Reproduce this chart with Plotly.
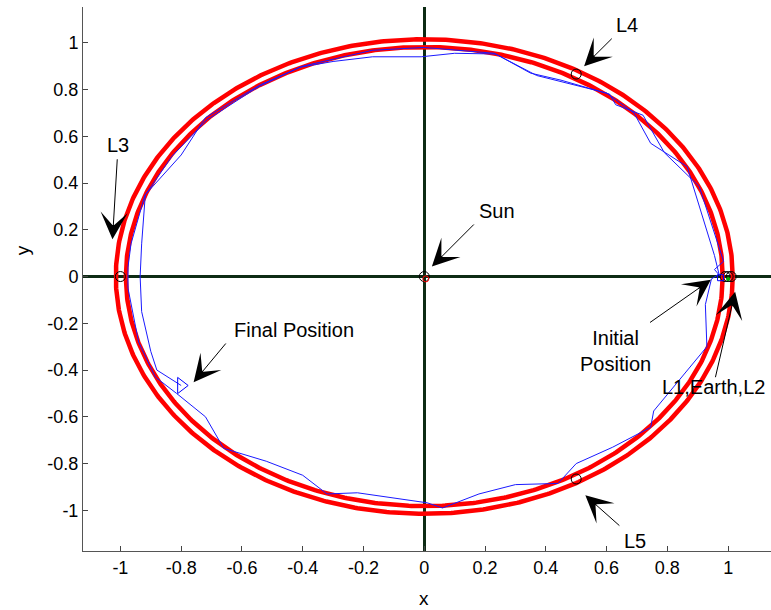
import numpy as np
import plotly.graph_objects as go

# ---- data ----
orbit_radii = [0.982, 1.015]          # the two red rings
ticks = [-1, -0.8, -0.6, -0.4, -0.2, 0, 0.2, 0.4, 0.6, 0.8, 1]
tick_text = ["-1", "-0.8", "-0.6", "-0.4", "-0.2", "0", "0.2", "0.4", "0.6", "0.8", "1"]

traj_x = [0.975, 0.955, 0.985, 0.905, 0.79, 0.72, 0.63, 0.61, 0.45, 0.35, 0.235, 0.10, -0.01,
          -0.17, -0.30, -0.41, -0.54, -0.56, -0.715, -0.83, -0.92, -0.965, -0.975, -0.975,
          -0.94, -0.885, -0.815, -0.72, -0.66, -0.52, -0.40, -0.32, -0.22, 0.01, 0.06, 0.18,
          0.30, 0.44, 0.50, 0.62, 0.745, 0.755, 0.93, 0.925, 0.945, 0.97,
          0.955, 0.865, 0.745, 0.69, 0.60, 0.37, 0.23, 0.0, -0.17, -0.40, -0.54, -0.72, -0.80,
          -0.918, -0.93, -0.935, -0.93, -0.90, -0.88, -0.80]
traj_y = [0.00, 0.03, 0.065, 0.385, 0.53, 0.69, 0.735, 0.78, 0.84, 0.87, 0.952, 0.955, 0.94,
          0.94, 0.92, 0.895, 0.815, 0.80, 0.67, 0.515, 0.345, 0.14, 0.04, -0.05,
          -0.28, -0.43, -0.50, -0.60, -0.735, -0.79, -0.85, -0.93, -0.925, -0.968, -0.99, -0.93,
          -0.89, -0.885, -0.80, -0.73, -0.645, -0.575, -0.30, -0.12, -0.01, 0.01,
          0.09, 0.47, 0.57, 0.70, 0.785, 0.86, 0.955, 0.98, 0.968, 0.90, 0.82, 0.68, 0.52,
          0.35, 0.14, 0.0, -0.15, -0.32, -0.40, -0.466]

lagrange_x = [0.0, -1.0, 0.5, 0.5, 0.99, 1.0, 1.01]
lagrange_y = [0.0, 0.0, 0.866, -0.866, 0.0, 0.0, 0.0]
final_pos = (-0.80, -0.466)
initial_pos = (0.975, -0.005)
earth_pos = (1.0, -0.01)

labels = ["L4", "L3", "Sun", "Final Position", "Initial<br>Position", "L1,Earth,L2", "L5"]
label_x = [0.668, -1.007, 0.239, -0.430, 0.628, 0.951, 0.694]
label_y = [1.075, 0.563, 0.280, -0.229, -0.318, -0.473, -1.133]
tail_x = [0.622, -1.010, 0.168, -0.649, 0.738, 0.957, 0.647]
tail_y = [1.024, 0.508, 0.229, -0.280, -0.201, -0.437, -1.071]
tip_x = [0.526, -1.026, 0.025, -0.759, 0.943, 1.023, 0.530]
tip_y = [0.900, 0.159, 0.043, -0.452, -0.014, -0.065, -0.936]

FONT = "Liberation Sans, Arial, sans-serif"

fig = go.Figure()

theta = np.linspace(0, 2 * np.pi, 721)
for r in orbit_radii:
    fig.add_trace(go.Scatter(x=r * np.cos(theta), y=r * np.sin(theta), mode="lines",
                             line=dict(color="#ff0000", width=4.5), hoverinfo="skip"))

fig.add_trace(go.Scatter(x=traj_x, y=traj_y, mode="lines",
                         line=dict(color="#1a1aff", width=1)))

fig.add_trace(go.Scatter(x=lagrange_x, y=lagrange_y, mode="markers",
                         marker=dict(symbol="circle-open", size=10, color="black",
                                     line=dict(width=1, color="black"))))
fig.add_trace(go.Scatter(x=[0.005], y=[-0.01], mode="markers",
                         marker=dict(symbol="circle-open", size=6, color="#ff0000",
                                     line=dict(width=1, color="#ff0000"))))
fig.add_trace(go.Scatter(x=[final_pos[0]], y=[final_pos[1]], mode="markers",
                         marker=dict(symbol="triangle-right-open", size=14, color="#0000ff",
                                     line=dict(width=1, color="#0000ff"))))
fig.add_trace(go.Scatter(x=[initial_pos[0]], y=[initial_pos[1]], mode="markers",
                         marker=dict(symbol="square-open", size=6, color="#0000ff",
                                     line=dict(width=1, color="#0000ff"))))
fig.add_trace(go.Scatter(x=[earth_pos[0]], y=[earth_pos[1]], mode="markers",
                         marker=dict(symbol="circle", size=4, color="#00b000")))

annotations = []
for t, lx, ly, ax, ay, hx, hy in zip(labels, label_x, label_y, tail_x, tail_y, tip_x, tip_y):
    annotations.append(dict(x=lx, y=ly, xref="x", yref="y", text=t, showarrow=False,
                            xanchor="center", yanchor="middle",
                            font=dict(family=FONT, size=20, color="black"), align="center"))
    annotations.append(dict(x=hx, y=hy, ax=ax, ay=ay, xref="x", yref="y", axref="x", ayref="y",
                            text="", showarrow=True, arrowhead=3, arrowsize=4.5, arrowwidth=1,
                            arrowcolor="black"))

annotations.append(dict(x=-0.0887, y=0.553, xref="paper", yref="paper", text="y",
                        xanchor="center", yanchor="middle",
                        showarrow=False, textangle=-90, font=dict(family=FONT, size=19, color="black")))
annotations.append(dict(x=0.4956, y=-0.0864, xref="paper", yref="paper", text="x",
                        xanchor="center", yanchor="middle",
                        showarrow=False, font=dict(family=FONT, size=19, color="black")))

axis_common = dict(tickvals=ticks, ticktext=tick_text, ticks="inside", ticklen=5, tickwidth=1,
                   tickcolor="#444", showline=True, linecolor="#555", linewidth=1, mirror=False,
                   showgrid=False, zeroline=True, zerolinecolor="#0d2b14", zerolinewidth=3,
                   tickfont=dict(family=FONT, size=18, color="black"))

fig.update_layout(
    width=771, height=610, autosize=False,
    margin=dict(l=83, r=0, t=7, b=59),
    paper_bgcolor="white", plot_bgcolor="white",
    showlegend=False,
    xaxis=dict(range=[-1.123, 1.141], **axis_common),
    yaxis=dict(range=[-1.174, 1.153], **axis_common),
    annotations=annotations,
)

fig.write_html("out.html")
